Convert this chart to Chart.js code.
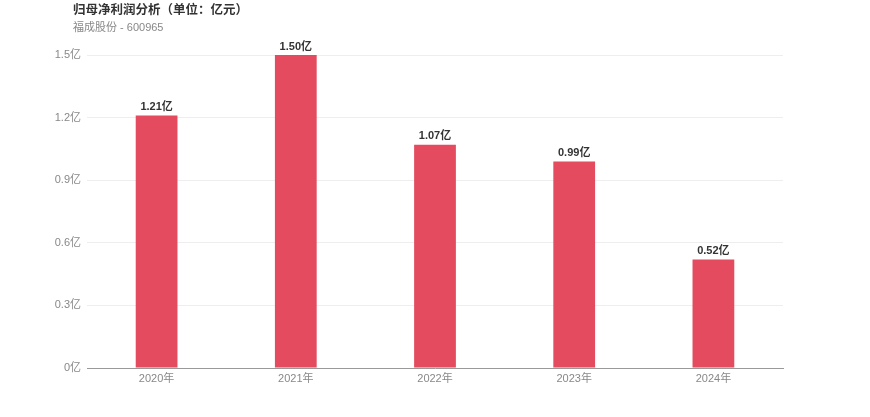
<!DOCTYPE html>
<html>
<head>
<meta charset="utf-8">
<script src="https://cdn.jsdelivr.net/npm/chart.js@4.4.0/dist/chart.umd.min.js"></script>
<style>
  html, body { margin: 0; padding: 0; background: #fff; }
  #wrap { position: relative; width: 870px; height: 417px; }
  #title { position: absolute; left: 73px; top: -1px; font: bold 12.5px "Noto Sans CJK SC", sans-serif; color: #333; font-feature-settings: "fwid"; text-spacing-trim: space-all; }
  #sub { position: absolute; left: 73px; top: 18px; font: 11px "Liberation Sans", "Noto Sans CJK SC", sans-serif; color: #888; }
</style>
</head>
<body>
<div id="wrap">
  <canvas id="mainChart" width="870" height="417"></canvas>
  <div id="title">归母净利润分析（单位：亿元）</div>
  <div id="sub">福成股份 - 600965</div>
</div>
<script>
// --- Data ---
const years = ['2020年', '2021年', '2022年', '2023年', '2024年'];
const profit = [1.21, 1.50, 1.07, 0.99, 0.52];
const yTicks = [0, 0.3, 0.6, 0.9, 1.2, 1.5];

const FONT = '"Liberation Sans", "Noto Sans CJK SC", sans-serif';

// labels above bars
const barLabels = {
  id: 'barLabels',
  afterDatasetsDraw(chart) {
    const ctx = chart.ctx;
    const meta = chart.getDatasetMeta(0);
    ctx.save();
    ctx.font = 'bold 11px ' + FONT;
    ctx.fillStyle = '#333';
    ctx.textAlign = 'center';
    ctx.textBaseline = 'bottom';
    meta.data.forEach((bar, i) => {
      ctx.fillText(profit[i].toFixed(2) + '亿', bar.x, bar.y - 3);
    });
    ctx.restore();
  }
};

new Chart(document.getElementById('mainChart'), {
  type: 'bar',
  data: {
    labels: years,
    datasets: [{
      data: profit,
      backgroundColor: '#E44B5F',
      categoryPercentage: 1,
      barPercentage: 0.3
    }]
  },
  options: {
    responsive: false,
    animation: false,
    layout: { padding: { top: 55, right: 87, bottom: 29, left: 0 } },
    plugins: {
      legend: { display: false },
      tooltip: { enabled: false }
    },
    scales: {
      x: {
        grid: { display: false, drawTicks: false },
        border: { display: true, color: '#999' },
        ticks: { color: '#888', font: { size: 11, family: FONT }, padding: 4 },
        afterFit(s) { s.height = 20; }
      },
      y: {
        min: 0,
        max: 1.5,
        afterBuildTicks(s) { s.ticks = yTicks.map(v => ({ value: v })); },
        grid: { color: '#eeeeee', drawTicks: false },
        border: { display: false },
        ticks: {
          color: '#888',
          font: { size: 11, family: FONT },
          padding: 6,
          callback: v => parseFloat(Number(v).toFixed(1)) + '亿'
        },
        afterFit(s) { s.width = 87; }
      }
    }
  },
  plugins: [barLabels]
});
</script>
</body>
</html>
